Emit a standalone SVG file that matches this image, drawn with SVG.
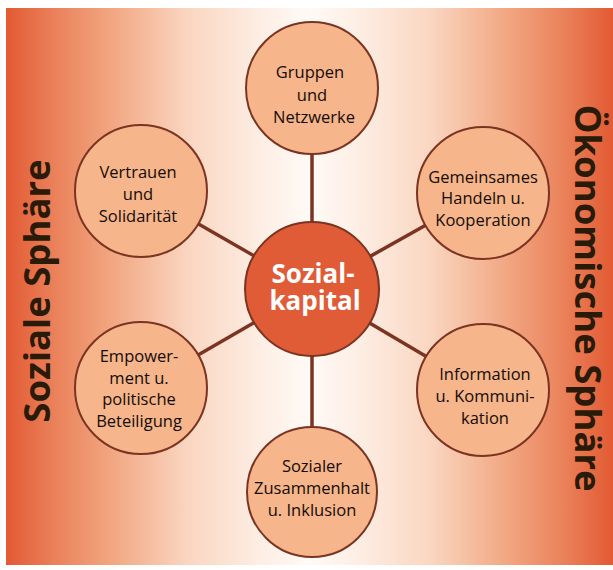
<svg xmlns="http://www.w3.org/2000/svg" width="613" height="570" viewBox="0 0 613 570">
<defs>
<linearGradient id="bg" x1="6" y1="0" x2="613" y2="0" gradientUnits="userSpaceOnUse">
<stop offset="0" stop-color="#e25a33"/>
<stop offset="0.08" stop-color="#ea815a"/>
<stop offset="0.17" stop-color="#f1a57f"/>
<stop offset="0.3" stop-color="#fad6c1"/>
<stop offset="0.42" stop-color="#fdeee4"/>
<stop offset="0.5" stop-color="#fffaf6"/>
<stop offset="0.58" stop-color="#fdeee4"/>
<stop offset="0.7" stop-color="#fad6c1"/>
<stop offset="0.83" stop-color="#f1a57f"/>
<stop offset="0.92" stop-color="#ea815a"/>
<stop offset="1" stop-color="#e25a33"/>
</linearGradient>
<style>
.node circle{fill:#f6b58b;stroke:#7b3322;stroke-width:2}
.node text{font-family:"Open Sans","Noto Sans",sans-serif;font-size:16.5px;fill:#140c06;text-anchor:middle}
#center circle{fill:#e05c36;stroke:#7b3322;stroke-width:2}
#center text{font-family:"Open Sans","Noto Sans",sans-serif;font-size:26px;font-weight:bold;fill:#ffffff;text-anchor:middle}
.side{font-family:"Open Sans","Noto Sans",sans-serif;font-size:36.5px;font-weight:bold;fill:#2a1a08;text-anchor:middle}
#connectors line{stroke:#7b3322;stroke-width:3.5}
</style>
</defs>
<rect x="6" y="8" width="607" height="557" fill="url(#bg)"/>
<text class="side" transform="translate(50,291) rotate(-90)">Soziale Sphäre</text>
<text class="side" transform="translate(575,298) rotate(90)">Ökonomische Sphäre</text>
<g id="connectors">
<line x1="312" y1="289" x2="312" y2="88"/>
<line x1="312" y1="289" x2="141" y2="191"/>
<line x1="312" y1="289" x2="483" y2="193"/>
<line x1="312" y1="289" x2="141" y2="388"/>
<line x1="312" y1="289" x2="483" y2="390"/>
<line x1="312" y1="289" x2="312" y2="492"/>
</g>
<g id="n-gruppen" class="node">
<circle cx="312" cy="88" r="66"/>
<text x="310" y="78">Gruppen</text>
<text x="312" y="101">und</text>
<text x="314" y="123">Netzwerke</text>
</g>
<g id="n-vertrauen" class="node">
<circle cx="141" cy="191" r="66"/>
<text x="138" y="178">Vertrauen</text>
<text x="138" y="200">und</text>
<text x="138" y="222">Solidarität</text>
</g>
<g id="n-gemeinsames" class="node">
<circle cx="483" cy="193" r="66"/>
<text x="483" y="183">Gemeinsames</text>
<text x="483" y="204">Handeln u.</text>
<text x="483" y="226">Kooperation</text>
</g>
<g id="n-empowerment" class="node">
<circle cx="141" cy="388" r="66"/>
<text x="139" y="362">Empower-</text>
<text x="139" y="384">ment u.</text>
<text x="139" y="405">politische</text>
<text x="139" y="427">Beteiligung</text>
</g>
<g id="n-information" class="node">
<circle cx="483" cy="390" r="66"/>
<text x="485" y="380">Information</text>
<text x="485" y="402">u. Kommuni-</text>
<text x="485" y="424">kation</text>
</g>
<g id="n-zusammenhalt" class="node">
<circle cx="312" cy="492" r="65"/>
<text x="312" y="472">Sozialer</text>
<text x="312" y="494">Zusammenhalt</text>
<text x="312" y="516">u. Inklusion</text>
</g>
<g id="center">
<circle cx="312" cy="289" r="67"/>
<text x="313" y="283">Sozial-</text>
<text x="315" y="310">kapital</text>
</g>
</svg>
